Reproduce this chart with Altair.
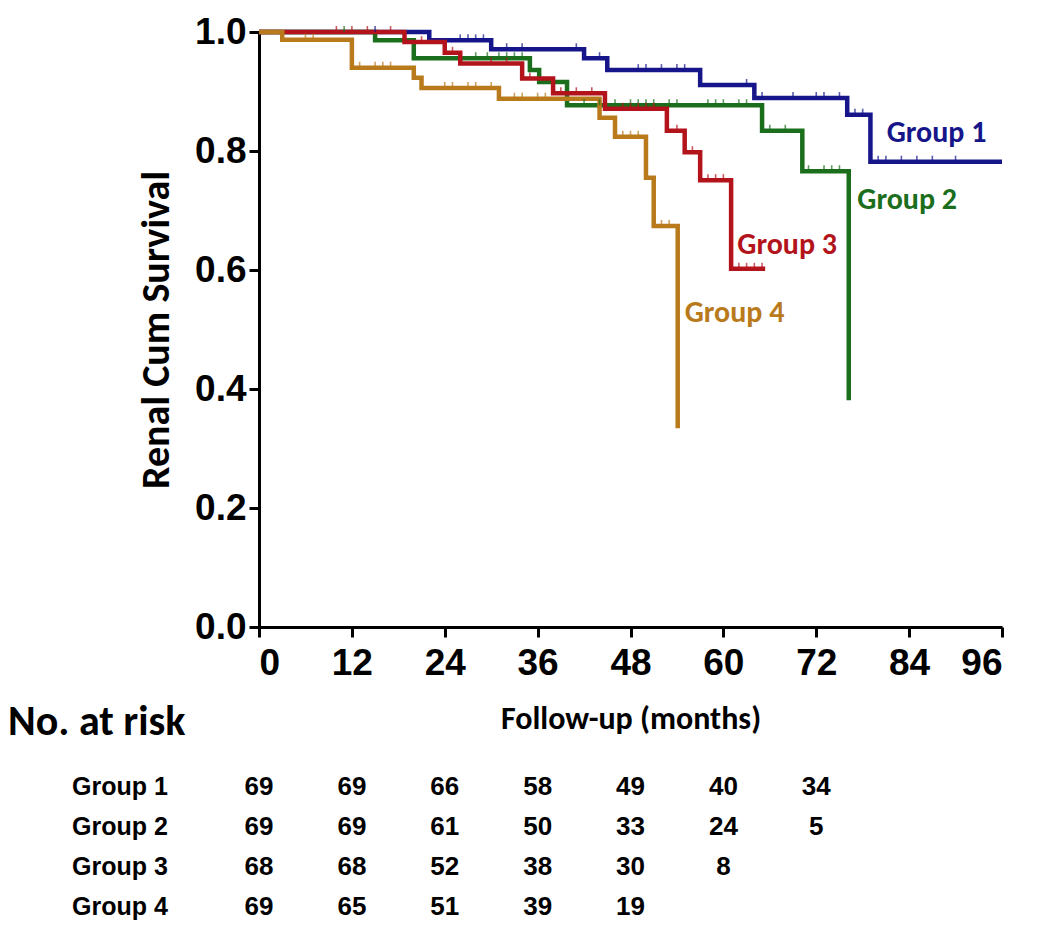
import altair as alt
import pandas as pd

groups = ["Group 1", "Group 2", "Group 3", "Group 4"]
colors = ["#16168a", "#1b6e1b", "#b3141c", "#b97a1c"]

# Kaplan-Meier step points (time in months, cumulative survival)
g1_t = [0, 22, 30, 42, 45, 57, 64, 76, 79, 96]
g1_s = [1.0, 0.986, 0.971, 0.956, 0.936, 0.911, 0.889, 0.861, 0.782, 0.782]
g2_t = [0, 15, 20, 35, 36.2, 39.8, 65, 70.2, 76.2]
g2_s = [1.0, 0.986, 0.956, 0.936, 0.916, 0.877, 0.834, 0.766, 0.381]
g3_t = [0, 18.8, 24, 26, 34, 38, 44.7, 52.7, 55, 57, 61, 65.4]
g3_s = [1.0, 0.983, 0.965, 0.947, 0.922, 0.897, 0.871, 0.834, 0.798, 0.751, 0.602, 0.602]
g4_t = [0, 3, 12, 20, 21, 31, 44, 46, 50, 51, 54.1]
g4_s = [1.0, 0.987, 0.94, 0.923, 0.906, 0.888, 0.856, 0.824, 0.755, 0.674, 0.334]

# censored observation times
c1 = [15, 26, 27, 28, 29, 32, 34, 41, 44, 49, 50, 52, 54, 55, 63, 65, 69, 72, 73, 75, 77, 78, 80, 81, 83, 85, 87, 90]
c2 = [11, 28, 29.5, 31, 32, 33, 34, 42, 44, 46, 48, 49, 50, 51, 53, 54, 58, 59, 60, 62, 63, 66, 68, 71, 73, 74, 75]
c3 = [10, 12, 14, 17, 21, 25, 30, 32, 35, 39, 41, 43, 47, 48, 49, 50, 51, 54, 56, 58, 59, 60, 62, 63, 64, 65]
c4 = [6, 7, 13, 15, 16, 17, 24, 25, 27, 28, 30, 33, 34, 36, 37, 47, 48, 49, 52, 53]

# number at risk table
risk_times = [0, 12, 24, 36, 48, 60, 72]
risk_g1 = [69, 69, 66, 58, 49, 40, 34]
risk_g2 = [69, 69, 61, 50, 33, 24, 5]
risk_g3 = [68, 68, 52, 38, 30, 8]
risk_g4 = [69, 65, 51, 39, 19]

# curve label anchor (time, survival)
label_t = [81.1, 77.3, 61.8, 55.0]
label_s = [0.83, 0.718, 0.642, 0.528]

curves = [(g1_t, g1_s), (g2_t, g2_s), (g3_t, g3_s), (g4_t, g4_s)]
cens = [c1, c2, c3, c4]
risks = [risk_g1, risk_g2, risk_g3, risk_g4]

rows = []
for g, (ts, ss) in zip(groups, curves):
    for i, (t, s) in enumerate(zip(ts, ss)):
        rows.append({"group": g, "t": t, "s": s, "o": i})
curve_df = pd.DataFrame(rows)

def step_value(ts, ss, c):
    v = ss[0]
    for t, s in zip(ts, ss):
        if t <= c:
            v = s
    return v

crow = []
for g, (ts, ss), cs in zip(groups, curves, cens):
    for c in cs:
        crow.append({"group": g, "t": c, "s": step_value(ts, ss, c)})
cens_df = pd.DataFrame(crow)

lab_df = pd.DataFrame({"group": groups, "t": label_t, "s": label_s})

SANS = "Liberation Sans, Arial, sans-serif"
TITLE = "Carlito, Lato, Open Sans, sans-serif"

color_scale = alt.Scale(domain=groups, range=colors)

x_enc = alt.X(
    "t:Q",
    scale=alt.Scale(domain=[0, 96], nice=False, zero=False),
    axis=alt.Axis(
        values=[0, 12, 24, 36, 48, 60, 72, 84, 96],
        title="Follow-up (months)",
        grid=False,
        labelFont=SANS, labelFontSize=37, labelFontWeight="bold", labelColor="black",
        labelPadding=8,
        domainColor="black", domainWidth=3, tickColor="black", tickWidth=3, tickSize=10,
        titleFont=TITLE, titleFontSize=32, titleFontWeight="bold", titleColor="black",
        titlePadding=22,
    ),
)
y_enc = alt.Y(
    "s:Q",
    scale=alt.Scale(domain=[0, 1], nice=False, zero=False),
    axis=alt.Axis(
        values=[0, 0.2, 0.4, 0.6, 0.8, 1.0], format=".1f",
        title="Renal Cum Survival",
        grid=False,
        labelFont=SANS, labelFontSize=37, labelFontWeight="bold", labelColor="black",
        labelPadding=3,
        domainColor="black", domainWidth=3, tickColor="black", tickWidth=3, tickSize=10,
        titleFont=TITLE, titleFontSize=40, titleFontWeight="bold", titleColor="black",
        titlePadding=18,
    ),
)

lines = alt.Chart(curve_df).mark_line(interpolate="step-after", strokeWidth=4.5).encode(
    x=x_enc, y=y_enc,
    color=alt.Color("group:N", scale=color_scale, legend=None),
    order="o:Q",
)

ticks = alt.Chart(cens_df).mark_tick(orient="vertical", size=6, thickness=1.6, yOffset=-3).encode(
    x="t:Q", y="s:Q",
    color=alt.Color("group:N", scale=color_scale, legend=None),
)

labels = alt.Chart(lab_df).mark_text(
    align="left", baseline="middle", font=TITLE, fontSize=30, fontWeight="bold"
).encode(
    x="t:Q", y="s:Q", text="group:N",
    color=alt.Color("group:N", scale=color_scale, legend=None),
)

layers = [lines, ticks, labels]

# number-at-risk table: one text row per group, below the plot area
for gi, (g, r) in enumerate(zip(groups, risks)):
    df = pd.DataFrame({"t": risk_times[: len(r)], "n": [str(v) for v in r]})
    ypix = 755 + 40 * gi
    layers.append(
        alt.Chart(df).mark_text(
            align="center", baseline="middle", font=SANS, fontSize=26, fontWeight="bold", color="black"
        ).encode(x="t:Q", y=alt.value(ypix), text="n:N")
    )
    layers.append(
        alt.Chart(pd.DataFrame({"g": [g]})).mark_text(
            align="left", baseline="middle", font=SANS, fontSize=25, fontWeight="bold", color="black"
        ).encode(x=alt.value(-187), y=alt.value(ypix), text="g:N")
    )

layers.append(
    alt.Chart(pd.DataFrame({"txt": ["No. at risk"]})).mark_text(
        align="left", baseline="middle", font=TITLE, fontSize=42, fontWeight="bold", color="black"
    ).encode(x=alt.value(-251), y=alt.value(690), text="txt:N")
)

chart = alt.layer(*layers).properties(
    width=743, height=595,
    autosize=alt.AutoSizeParams(type="none"),
    padding={"left": 251, "top": 24, "right": 40, "bottom": 300},
).configure(background="white", view=alt.ViewConfig(stroke=None))

chart.save("out.html", embed_options={"renderer": "svg", "actions": False})
